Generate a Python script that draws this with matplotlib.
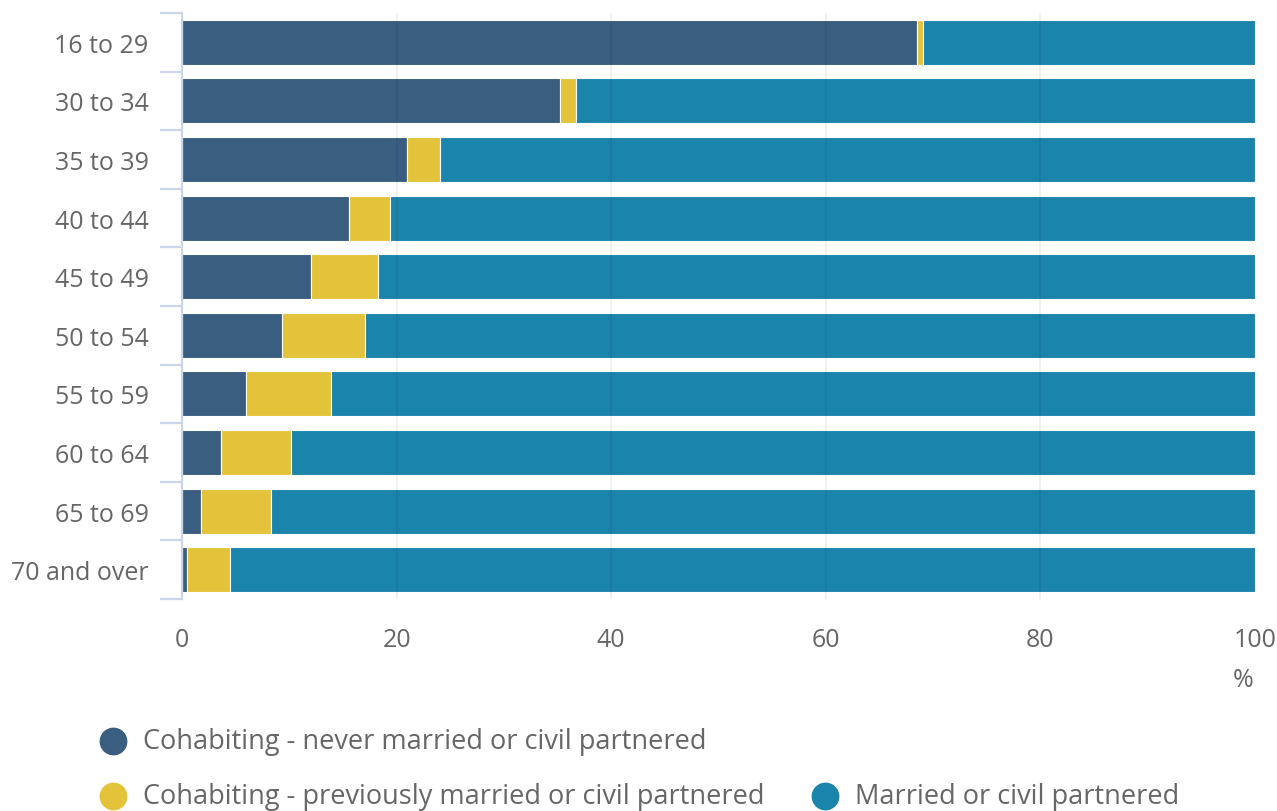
import matplotlib.pyplot as plt
import numpy as np

# age groups and shares (%)
ages = ['16 to 29', '30 to 34', '35 to 39', '40 to 44', '45 to 49',
        '50 to 54', '55 to 59', '60 to 64', '65 to 69', '70 and over']
neverMarried = [68.5, 35.2, 21.0, 15.6, 12.0, 9.3, 6.0, 3.6, 1.8, 0.5]
prevMarried = [0.6, 1.5, 3.0, 3.8, 6.3, 7.8, 7.9, 6.6, 6.5, 4.0]
married = [100 - a - b for a, b in zip(neverMarried, prevMarried)]

seriesNames = ['Cohabiting - never married or civil partnered',
               'Cohabiting - previously married or civil partnered',
               'Married or civil partnered']
colors = ['#3a5e7f', '#e3c33a', '#1b84aa']
xticks = [0, 20, 40, 60, 80, 100]

plt.rcParams['font.family'] = ['Open Sans', 'DejaVu Sans']
textCol = '#666666'

fig = plt.figure(figsize=(12.77, 8.12), dpi=100)
ax = fig.add_axes([182/1277, 1-600/812, (1255-182)/1277, (600-14)/812])

y = np.arange(len(ages))
left = np.zeros(len(ages))
for vals, col in zip([neverMarried, prevMarried, married], colors):
    ax.barh(y, vals, left=left, height=0.77, color=col,
            edgecolor='white', linewidth=0.8, zorder=2)
    left += np.array(vals)

ax.set_xlim(0, 100)
ax.set_ylim(len(ages)-0.5, -0.5)

# vertical grid, faint, shows through the bars
for t in xticks[1:-1]:
    ax.axvline(t, color='black', alpha=0.06, lw=1.3, zorder=3)

for s in ['top', 'right', 'bottom']:
    ax.spines[s].set_visible(False)
ax.spines['left'].set_color('#ccd6eb')
ax.spines['left'].set_linewidth(1.6)

ax.set_yticks(y)
ax.set_yticklabels(ages)
ax.set_yticks(np.arange(len(ages)+1)-0.5, minor=True)
ax.tick_params(axis='y', which='major', length=0, pad=24,
               labelsize=18, labelcolor=textCol)
ax.tick_params(axis='y', which='minor', length=16, width=1.6,
               color='#ccd6eb')

ax.set_xticks(xticks)
ax.tick_params(axis='x', length=0, pad=20, labelsize=18, labelcolor=textCol)

fig.text(1243/1277, 1-681/812, '%', ha='center', va='center',
         fontsize=18, color=textCol)

# legend laid out like the original (one item, then two)
legPos = [(113, 742), (113, 797), (825, 797)]
for name, col, (px, py) in zip(seriesNames, colors, legPos):
    fig.add_artist(plt.Line2D([px/1277], [1-py/812], marker='o',
                              markersize=19, color=col, linestyle='none',
                              transform=fig.transFigure))
    fig.text((px+30)/1277, 1-py/812, name, ha='left', va='center',
             fontsize=19.5, color=textCol)

plt.savefig('out.png', dpi=100)
